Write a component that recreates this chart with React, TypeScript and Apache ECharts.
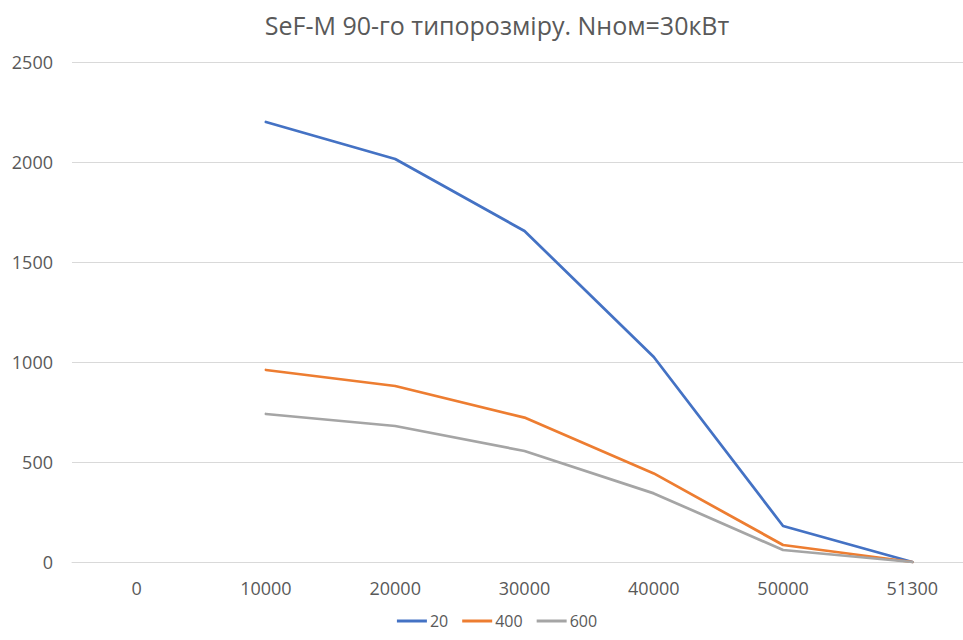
import React, { useEffect, useRef } from "react";
import * as echarts from "echarts";

// Flow values (x) and the three curves
const categories = ["0", "10000", "20000", "30000", "40000", "50000", "51300"];
const seriesNames = ["20", "400", "600"];
const values20 = [null, 2200, 2015, 1655, 1025, 180, 0];
const values400 = [null, 960, 880, 722, 443, 85, 0];
const values600 = [null, 740, 680, 555, 343, 60, 0];
const yTicks = { min: 0, max: 2500, interval: 500 };

const colors = ["#4472C4", "#ED7D31", "#A5A5A5"];
const FONT = "'Open Sans', 'Noto Sans', sans-serif";
const TEXT = "#595959";

export default function App() {
  const ref = useRef<HTMLDivElement>(null);

  useEffect(() => {
    if (!ref.current) return;
    const chart = echarts.init(ref.current, undefined, { renderer: "svg" });
    const dataSets = [values20, values400, values600];
    chart.setOption({
      animation: false,
      backgroundColor: "#ffffff",
      color: colors,
      title: {
        text: "SeF-M 90-го типорозміру. Nном=30кВт",
        left: "center",
        top: 7,
        textStyle: {
          fontFamily: FONT,
          fontSize: 25,
          fontWeight: "normal",
          color: TEXT,
        },
      },
      legend: {
        bottom: 6,
        left: "center",
        icon: "rect",
        itemWidth: 30,
        itemHeight: 3,
        itemGap: 14,
        data: seriesNames,
        textStyle: { fontFamily: FONT, fontSize: 16, color: TEXT, padding: [0, 0, 0, -2] },
      },
      grid: { left: 72, right: 17, top: 62, bottom: 78, containLabel: false },
      xAxis: {
        type: "category",
        data: categories,
        boundaryGap: true,
        axisLine: { show: true, lineStyle: { color: "#D9D9D9", width: 1 } },
        axisTick: { show: false },
        axisLabel: { fontFamily: FONT, fontSize: 18, color: TEXT, margin: 17 },
        splitLine: { show: false },
      },
      yAxis: {
        type: "value",
        min: yTicks.min,
        max: yTicks.max,
        interval: yTicks.interval,
        axisLine: { show: false },
        axisTick: { show: false },
        axisLabel: {
          fontFamily: FONT,
          fontSize: 18,
          color: TEXT,
          margin: 19,
          formatter: (v: number) => String(v),
        },
        splitLine: { lineStyle: { color: "#D9D9D9", width: 1 } },
      },
      series: seriesNames.map((name, i) => ({
        name,
        type: "line",
        data: dataSets[i],
        showSymbol: false,
        symbol: "none",
        connectNulls: false,
        lineStyle: { width: 2.75, color: colors[i], cap: "round", join: "round" },
        itemStyle: { color: colors[i] },
      })),
    });
    return () => chart.dispose();
  }, []);

  return (
    <div
      style={{
        position: "fixed",
        left: 0,
        top: 0,
        width: 963,
        height: 640,
        overflow: "hidden",
        background: "#fff",
      }}
    >
      <div ref={ref} style={{ width: 994, height: 640 }} />
    </div>
  );
}
